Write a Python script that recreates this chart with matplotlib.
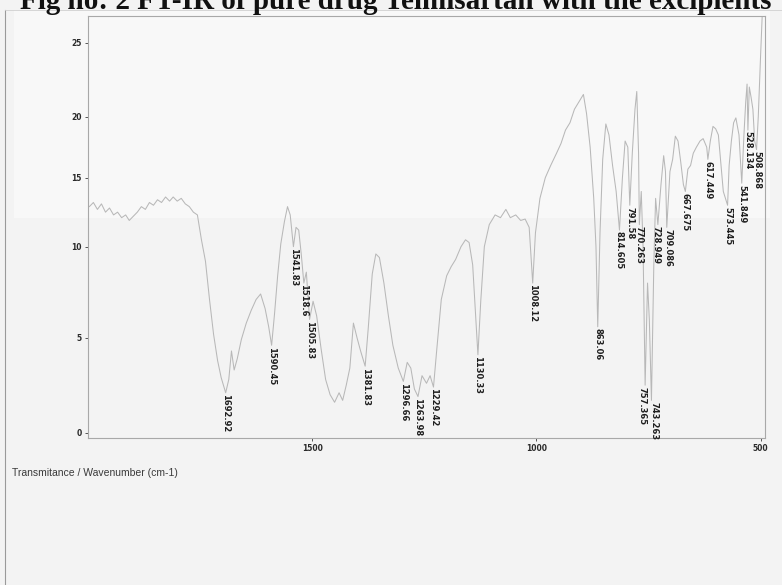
import numpy as np
import matplotlib
matplotlib.use("Agg")
import matplotlib.pyplot as plt
from matplotlib.patches import Rectangle

# ---------------- data ----------------
wavenumber = [2000, 1997, 1988, 1979, 1970, 1961, 1952, 1943, 1934, 1925, 1916, 1908, 1899, 1890,
              1881, 1872, 1863, 1854, 1845, 1836, 1827, 1818, 1810, 1801, 1792, 1783, 1774, 1765,
              1756, 1747, 1738, 1729, 1720, 1711, 1703, 1692.92, 1686, 1680, 1674, 1667, 1658,
              1647, 1636, 1625, 1615, 1605, 1597, 1590.45, 1584, 1577, 1570, 1562, 1555, 1549,
              1541.83, 1536, 1530, 1524, 1518.6, 1513, 1505.83, 1498, 1490, 1480, 1470, 1460,
              1450, 1440, 1432, 1424, 1416, 1408, 1400, 1392, 1381.83, 1375, 1366, 1358, 1350,
              1340, 1330, 1320, 1308, 1296.66, 1288, 1280, 1272, 1263.98, 1255, 1245, 1237,
              1229.42, 1222, 1212, 1200, 1190, 1180, 1168, 1158, 1150, 1142, 1136, 1130.33, 1124,
              1116, 1105, 1092, 1080, 1068, 1058, 1046, 1035, 1025, 1016, 1008.12, 1002, 992,
              980, 968, 955, 945, 935, 925, 915, 905, 895, 888, 880, 872, 867, 863.06, 858, 852,
              845, 838, 830, 822, 814.605, 808, 802, 796, 791.58, 786, 780, 776, 772, 770.263,
              766, 762, 757.365, 752, 748, 743.263, 738, 734, 728.949, 722, 716, 712, 709.086,
              702, 696, 690, 684, 678, 672, 667.675, 662, 656, 650, 643, 635, 628, 620, 617.449,
              612, 606, 600, 594, 588, 583, 573.445, 570, 565, 560, 555, 548, 541.849, 537, 533,
              530, 528.134, 525, 521, 517, 513, 508.868, 505, 500, 496, 490]
transmittance = [12.9, 12.9, 13.2, 12.7, 13.1, 12.5, 12.8, 12.3, 12.5, 12.1, 12.3, 11.9, 12.2, 12.5,
                 12.9, 12.7, 13.2, 13.0, 13.4, 13.2, 13.6, 13.3, 13.6, 13.3, 13.5, 13.1, 12.9, 12.5,
                 12.3, 10.5, 9.2, 7.1, 5.2, 3.8, 2.9, 2.1, 2.8, 4.3, 3.3, 3.9, 4.9,
                 5.8, 6.5, 7.1, 7.4, 6.6, 5.6, 4.6, 6.3, 8.4, 10.2, 11.8, 12.9, 12.3,
                 10.0, 11.4, 11.2, 9.5, 8.0, 8.6, 6.0, 7.0, 6.2, 4.4, 2.8, 2.0,
                 1.6, 2.1, 1.7, 2.5, 3.4, 5.8, 5.0, 4.3, 3.5, 5.5, 8.5, 9.6, 9.4,
                 8.0, 6.2, 4.6, 3.4, 2.7, 3.7, 3.4, 2.3, 1.9, 3.0, 2.6, 3.0,
                 2.4, 4.4, 7.1, 8.4, 8.9, 9.3, 10.0, 10.5, 10.3, 9.0, 6.5, 4.1, 7.0,
                 10.0, 11.6, 12.3, 12.1, 12.7, 12.1, 12.3, 11.9, 12.0, 11.4, 8.0, 11.0, 13.5,
                 15.0, 16.0, 17.0, 17.8, 18.9, 19.5, 20.5, 21.0, 21.5, 20.2, 17.5, 13.5, 10.0, 5.6, 11.0, 16.5,
                 19.4, 18.5, 16.0, 14.0, 11.2, 15.0, 18.0, 17.5, 13.0, 17.0, 20.5, 21.7, 17.0, 11.6,
                 14.0, 10.0, 2.5, 8.0, 6.0, 1.7, 9.0, 13.5, 11.6, 14.5, 16.8, 15.5, 11.4,
                 15.5, 16.5, 18.4, 18.0, 16.3, 14.5, 14.0, 15.7, 16.0, 17.0, 17.5, 18.0, 18.2, 17.5, 16.5,
                 18.0, 19.2, 19.0, 18.5, 16.0, 14.0, 13.0, 16.0, 18.0, 19.5, 19.9, 18.5, 14.6, 18.5, 21.0,
                 22.2, 18.9, 22.0, 21.3, 20.5, 18.0, 17.3, 20.0, 24.0, 27.0, 27.0]

peak_wn = [1692.92, 1590.45, 1541.83, 1518.6, 1505.83, 1381.83, 1296.66, 1263.98, 1229.42,
           1130.33, 1008.12, 863.06, 814.605, 791.58, 770.263, 757.365, 743.263, 728.949,
           709.086, 667.675, 617.449, 573.445, 541.849, 528.134, 508.868]
peak_labels = ["1692.92", "1590.45", "1541.83", "1518.6", "1505.83", "1381.83", "1296.66",
               "1263.98", "1229.42", "1130.33", "1008.12", "863.06", "814.605", "791.58",
               "770.263", "757.365", "743.263", "728.949", "709.086", "667.675", "617.449",
               "573.445", "541.849", "528.134", "508.868"]

y_ticks = [0, 5, 10, 15, 20, 25]
x_ticks = [1500, 1000, 500]

title = "Fig no: 2 FT-IR of pure drug Telmisartan with the excipients"
xlabel = "Transmitance / Wavenumber (cm-1)"

# ---------------- scanned-axis calibration (uneven scan) ----------------
CAL_V = np.array([-100, 0, 5, 10, 15, 20, 25, 100], dtype=float)
CAL_H = np.array([-1900, 0, 95, 186, 255, 316, 390, 1500], dtype=float)

def fwd(v):
    return np.interp(v, CAL_V, CAL_H)

def inv(h):
    return np.interp(h, CAL_H, CAL_V)

# small horizontal nudges (points) so crowded labels sit side by side
label_dx = {"757.365": -2.0, "743.263": 2.0, "770.263": -0.5, "728.949": -1.0, "709.086": 1.0}

# ---------------- figure ----------------
W, H = 782, 585
fig = plt.figure(figsize=(W / 100, H / 100), dpi=100)
fig.patch.set_facecolor("#f3f3f3")

# lighter pasted strip of the scan at the top and scan borders
fig.add_artist(Rectangle((14 / W, 1 - 218 / H), 756 / W, 208 / H,
                         transform=fig.transFigure, facecolor="#f8f8f8",
                         edgecolor="none", zorder=-5))
fig.add_artist(plt.Line2D([5 / W, 5 / W], [0, 1 - 10 / H], transform=fig.transFigure,
                          color="#9a9a9a", lw=0.8, zorder=-4))
fig.add_artist(plt.Line2D([5 / W, 1], [1 - 10 / H, 1 - 10 / H], transform=fig.transFigure,
                          color="#d0d0d0", lw=0.6, zorder=-4))

ax_left, ax_right, ax_top, ax_bot = 88, 765, 16, 438
ax = fig.add_axes([ax_left / W, 1 - ax_bot / H, (ax_right - ax_left) / W, (ax_bot - ax_top) / H])
ax.set_zorder(2)
ax.set_facecolor("none")
ax.set_yscale("function", functions=(fwd, inv))

wn = np.array(wavenumber)
tr = np.array(transmittance)
ax.plot(wn, tr, color="#b8b8b8", lw=0.75, zorder=2)

ax.set_xlim(2000, 490)
ax.set_ylim(-0.28, 26.8)

# peak labels
wn_inc = wn[::-1]
tr_inc = tr[::-1]
for pw, lab in zip(peak_wn, peak_labels):
    pv = np.interp(pw, wn_inc, tr_inc)
    ax.annotate(lab, xy=(pw, pv), xytext=(label_dx.get(lab, 0.0), -1), textcoords="offset points",
                rotation=270, ha="center", va="top", fontsize=6.0,
                fontweight="bold", color="#1e1e1e", zorder=3)

ax.set_yticks(y_ticks)
ax.set_xticks(x_ticks)
ax.set_yticklabels([str(t) for t in y_ticks])
ax.set_xticklabels([str(t) for t in x_ticks])
ax.tick_params(axis="both", direction="out", length=2.5, width=0.7, colors="#555555",
               labelsize=5.5, labelcolor="#2a2a2a", pad=2)
for lbl in ax.get_xticklabels() + ax.get_yticklabels():
    lbl.set_fontweight("bold")
for s in ax.spines.values():
    s.set_color("#a8a8a8")
    s.set_linewidth(0.8)

fig.text(20 / W, 1 - 9 / H, title, ha="left", va="baseline", fontsize=21,
         fontweight="bold", family=["Liberation Serif", "DejaVu Serif"], color="#111111")
fig.text(12 / W, 1 - 473 / H, xlabel, ha="left", va="center", fontsize=7.5,
         family=["Liberation Sans", "DejaVu Sans"], color="#3a3a3a")

fig.savefig("out.png", dpi=100, facecolor=fig.get_facecolor())
